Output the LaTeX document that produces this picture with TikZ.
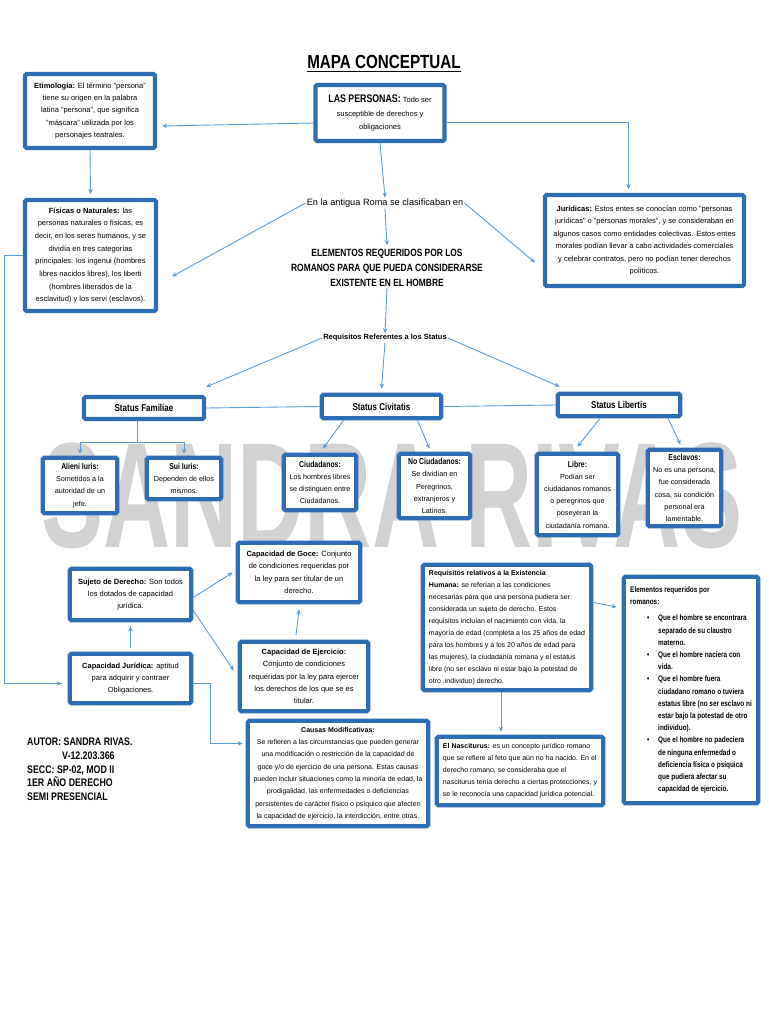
\documentclass[tikz,border=0pt]{standalone}
\usepackage{fontspec}
\setmainfont{Liberation Sans}
\newfontfamily\narrowfont{Liberation Sans}[FakeStretch=0.8]
\usetikzlibrary{arrows.meta}

\definecolor{boxblue}{RGB}{46,108,180}
\definecolor{linkblue}{RGB}{91,155,213}
\definecolor{wmgray}{RGB}{210,210,210}

\newcommand{\lbl}[1]{\textbf{#1}}
\newcommand{\slbl}[1]{{\fontsize{8.6}{12}\narrowfont\bfseries #1}}

\begin{document}
\begin{tikzpicture}[x=1pt,y=-1pt,
  box/.style={draw=boxblue,line width=4.2pt,fill=white,rounded corners=1.5pt,align=center,inner sep=2pt,font=\fontsize{7.5}{12.4}\selectfont},
  small/.style={box,font=\fontsize{7.2}{12.2}\selectfont},
  status/.style={box,font=\fontsize{10}{12}\narrowfont\bfseries},
  arr/.style={-{Stealth[length=5pt,width=4.5pt]},linkblue,line width=0.9pt},
  lnk/.style={linkblue,line width=0.9pt}]
  \useasboundingbox (0,0) rectangle (768,1024);
  % Watermark
  \node[anchor=base,wmgray,xscale=0.62,inner sep=0,font=\fontsize{150}{150}\selectfont\bfseries] (mark) at (392,547) {SANDRA RIVAS};
  % Title
  \node[anchor=base,inner sep=0,font=\fontsize{19}{19}\narrowfont\bfseries] (title) at (384,69) {MAPA CONCEPTUAL};
  \draw[line width=1.4pt] ([yshift=-2.5pt]title.base west) -- ([yshift=-2.5pt]title.base east);
  % Top row
  \node[box,minimum width=130pt,minimum height=74pt] (etim) at (90,111) {\lbl{Etimología:} El término "persona"\\ tiene su origen en la palabra\\ latina "persona", que significa\\ "máscara" utilizada por los\\ personajes teatrales.};
  \node[box,minimum width=129pt,minimum height=56pt,font=\fontsize{7.5}{13.5}\selectfont] (pers) at (380,113) {{\fontsize{11}{12}\narrowfont\bfseries LAS PERSONAS:} Todo ser\\ susceptible de derechos y\\ obligaciones};
  \node[box,minimum width=131pt,minimum height=111pt,font=\fontsize{7.5}{12.7}\selectfont] (fis) at (90.5,255.5) {\lbl{Físicas o Naturales:} las\\ personas naturales o físicas, es\\ decir, en los seres humanos, y se\\ dividía en tres categorías\\ principales: los ingenui (hombres\\ libres nacidos libres), los liberti\\ (hombres liberados de la\\ esclavitud) y los servi (esclavos).};
  \node[box,minimum width=199pt,minimum height=91pt] (jur) at (644.5,240.5) {\lbl{Jurídicas:} Estos entes se conocían como "personas\\ jurídicas" o "personas morales", y se consideraban en\\ algunos casos como entidades colectivas. Estos entes\\ morales podían llevar a cabo actividades comerciales\\ y celebrar contratos, pero no podían tener derechos\\ políticos.};
  \node[inner sep=1pt,font=\fontsize{9.2}{11}\selectfont] (roma) at (385,203) {En la antigua Roma se clasificaban en};
  \node[inner sep=1pt,align=center,font=\fontsize{10.5}{15}\narrowfont\bfseries] (elem) at (387,268) {ELEMENTOS REQUERIDOS POR LOS\\ ROMANOS PARA QUE PUEDA CONSIDERARSE\\ EXISTENTE EN EL HOMBRE};
  \node[inner sep=1pt,font=\fontsize{7.5}{9}\selectfont\bfseries] (reqst) at (385,338) {Requisitos Referentes a los Status};
  % Status
  \node[status,minimum width=120pt,minimum height=22pt] (fam) at (144,408) {Status Familiae};
  \node[status,minimum width=119.5pt,minimum height=23.5pt] (civ) at (381.5,406.5) {Status Civitatis};
  \node[status,minimum width=122.5pt,minimum height=22.5pt] (lib) at (619,405) {Status Libertis};
  \node[small,minimum width=74.5pt,minimum height=55.5pt] (alieni) at (80,485.5) {\slbl{Alieni Iuris:}\\ Sometidos a la\\ autoridad de un\\ jefe.};
  \node[small,minimum width=74.5pt,minimum height=41.5pt] (sui) at (184,478.5) {\slbl{Sui Iuris:}\\ Dependen de ellos\\ mismos.};
  \node[small,minimum width=72.5pt,minimum height=55.5pt] (ciud) at (320,482.5) {\slbl{Ciudadanos:}\\ Los hombres libres\\ se distinguen entre\\ Ciudadanos.};
  \node[small,minimum width=71.5pt,minimum height=64.5pt] (nociud) at (434.5,486) {\slbl{No Ciudadanos:}\\ Se dividían en\\ Peregrinos,\\ extranjeros y\\ Latinos.};
  \node[small,minimum width=81.5pt,minimum height=81.5pt] (libre) at (577.5,494.5) {\slbl{Libre:}\\ Podían ser\\ ciudadanos romanos\\ o peregrinos que\\ poseyeran la\\ ciudadanía romana.};
  \node[small,minimum width=73.5pt,minimum height=76.5pt] (escl) at (684.5,488) {\slbl{Esclavos:}\\ No es una persona,\\ fue considerada\\ cosa, su condición\\ personal era\\ lamentable.};
  % Capacidad
  \node[box,minimum width=122.5pt,minimum height=59.5pt] (goce) at (299,572.5) {\lbl{Capacidad de Goce:} Conjunto\\ de condiciones requeridas por\\ la ley para ser titular de un\\ derecho.};
  \node[box,minimum width=121.5pt,minimum height=51.5pt] (sujeto) at (130.5,594.5) {\lbl{Sujeto de Derecho:} Son todos\\ los dotados de capacidad\\ jurídica.};
  \node[box,minimum width=121.5pt,minimum height=49.5pt] (capjur) at (130.5,678.5) {\lbl{Capacidad Jurídica:} aptitud\\ para adquirir y contraer\\ Obligaciones.};
  \node[box,minimum width=128.5pt,minimum height=69.5pt] (ejer) at (304,676.5) {\lbl{Capacidad de Ejercicio:}\\ Conjunto de condiciones\\ requeridas por la ley para ejercer\\ los derechos de los que se es\\ titular.};
  \node[box,minimum width=180.5pt,minimum height=105.5pt,font=\fontsize{7}{12.3}\selectfont] (causas) at (338,773.5) {\lbl{Causas Modificativas:}\\ Se refieren a las circunstancias que pueden generar\\ una modificación o restricción de la capacidad de\\ goce y/o de ejercicio de una persona. Estas causas\\ pueden incluir situaciones como la minoría de edad, la\\ prodigalidad, las enfermedades o deficiencias\\ persistentes de carácter físico o psíquico que afecten\\ la capacidad de ejercicio, la interdicción, entre otras.};
  % Requisitos
  \node[box,align=left,minimum width=168.5pt,minimum height=125.5pt,font=\fontsize{7}{12}\selectfont] (reqex) at (507,627.5) {\lbl{Requisitos relativos a la Existencia}\\ \lbl{Humana:} se referían a las condiciones\\ necesarias para que una persona pudiera ser\\ considerada un sujeto de derecho. Estos\\ requisitos incluían el nacimiento con vida, la\\ mayoría de edad (completa a los 25 años de edad\\ para los hombres y a los 20 años de edad para\\ las mujeres), la ciudadanía romana y el estatus\\ libre (no ser esclavo ni estar bajo la potestad de\\ otro .individuo) derecho.};
  \node[box,align=left,minimum width=166.5pt,minimum height=68.5pt,font=\fontsize{7}{12}\selectfont] (nasc) at (520,771) {\lbl{El Nasciturus:} es un concepto jurídico romano\\ que se refiere al feto que aún no ha nacido. En el\\ derecho romano, se consideraba que el\\ nasciturus tenía derecho a ciertas protecciones, y\\ se le reconocía una capacidad jurídica potencial.};
  \node[box,align=left,minimum width=134.5pt,minimum height=226.5pt,font=\fontsize{8}{12.2}\narrowfont\bfseries] (elreq) at (691,690) {Elementos requeridos por\\ romanos:\\[4pt]
    \hspace*{17pt}\makebox[11pt][l]{\textbullet}Que el hombre se encontrara\\ \hspace*{28pt}separado de su claustro\\ \hspace*{28pt}materno.\\
    \hspace*{17pt}\makebox[11pt][l]{\textbullet}Que el hombre naciera con\\ \hspace*{28pt}vida.\\
    \hspace*{17pt}\makebox[11pt][l]{\textbullet}Que el hombre fuera\\ \hspace*{28pt}ciudadano romano o tuviera\\ \hspace*{28pt}estatus libre (no ser esclavo ni\\ \hspace*{28pt}estar bajo la potestad de otro\\ \hspace*{28pt}individuo).\\
    \hspace*{17pt}\makebox[11pt][l]{\textbullet}Que el hombre no padeciera\\ \hspace*{28pt}de ninguna enfermedad o\\ \hspace*{28pt}deficiencia física o psíquica\\ \hspace*{28pt}que pudiera afectar su\\ \hspace*{28pt}capacidad de ejercicio.};
  % Author
  \node[anchor=north west,align=left,inner sep=0,font=\fontsize{11}{13.6}\narrowfont\bfseries] (autor) at (27,738) {AUTOR: SANDRA RIVAS.\\ \hspace*{35pt}V-12.203.366\\ SECC: SP-02, MOD II\\ 1ER AÑO DERECHO\\ SEMI PRESENCIAL};
  % Connectors, top
  \draw[arr] ([yshift=-10pt]pers.west) -- ([xshift=5pt,yshift=-15pt]etim.east);
  \draw[arr] ([yshift=-9pt]pers.east) -| ([xshift=-16pt,yshift=4pt]jur.north);
  \draw[arr] (etim.south) -- ([yshift=4pt]fis.north);
  \draw[arr] (pers.south) -- (roma.north);
  \draw[arr] (roma.west) -- ([xshift=14pt,yshift=-21pt]fis.east);
  \draw[arr] (roma.east) -- ([xshift=-8pt,yshift=-22pt]jur.west);
  \draw[arr] (roma.south) -- ([yshift=3pt]elem.north);
  \draw[arr] (elem.south) -- (reqst.north);
  % Connectors, status
  \draw[arr] (reqst.west) -- ([yshift=8pt]fam.north east);
  \draw[arr] (reqst.south) -- ([yshift=4pt]civ.north);
  \draw[arr] (reqst.east) -- ([xshift=4pt,yshift=5pt]lib.north west);
  \draw[lnk] (fam.east) -- (civ.west);
  \draw[lnk] (civ.east) -- (lib.west);
  \draw[lnk] ([xshift=-7pt]fam.south) -- ++(0,21) coordinate (famfork);
  \draw[lnk] (famfork -| alieni.north) -- (famfork -| sui.north);
  \draw[arr] (famfork -| alieni.north) -- ([yshift=2pt]alieni.north);
  \draw[arr] (famfork -| sui.north) -- ([yshift=2pt]sui.north);
  \draw[arr] ([xshift=-38pt]civ.south) -- ([xshift=3pt,yshift=4pt]ciud.north);
  \draw[arr] ([xshift=36pt]civ.south) -- ([xshift=-5pt,yshift=3pt]nociud.north);
  \draw[arr] ([xshift=-19pt]lib.south) -- ([yshift=5pt]libre.north);
  \draw[arr] ([xshift=49pt]lib.south) -- ([xshift=-4pt,yshift=3pt]escl.north);
  % Connectors, bottom
  \draw[arr] ([yshift=-3pt]sujeto.east) -- ([xshift=-3pt]goce.west);
  \draw[arr] ([yshift=-16pt]sujeto.east) -- ([xshift=-4pt,yshift=6pt]ejer.west);
  \draw[arr] ([yshift=4pt]capjur.north) -- ([yshift=-4pt]sujeto.south);
  \draw[arr] ([xshift=-8pt,yshift=4pt]ejer.north) -- ([yshift=-5pt]goce.south);
  \draw[arr] (fis.west) -- ++(-18,0) |- ([xshift=-6pt,yshift=-5pt]capjur.west);
  \draw[arr] ([yshift=-5pt]capjur.east) -- ++(17,0) |- ([xshift=-3pt,yshift=30pt]causas.west);
  \draw[arr] ([yshift=25pt]reqex.east) -- ([xshift=-5pt,yshift=83pt]elreq.west);
  \draw[arr] ([xshift=-6pt]reqex.south) -- ([xshift=-19pt,yshift=3pt]nasc.north);
\end{tikzpicture}
\end{document}
